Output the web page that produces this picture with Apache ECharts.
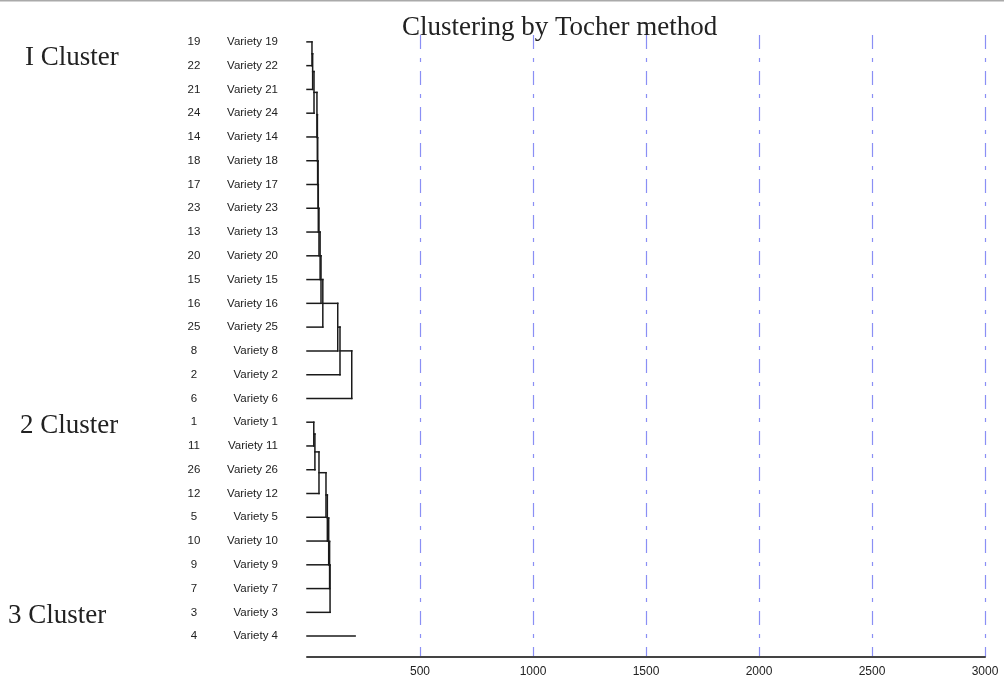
<!DOCTYPE html>
<html>
<head>
<meta charset="utf-8">
<script src="https://cdn.jsdelivr.net/npm/echarts@6/dist/echarts.min.js"></script>
<style>
html,body{margin:0;padding:0;background:#fff;}
#chart{width:1004px;height:683px;}
</style>
</head>
<body>
<div id="chart"></div>
<script>
// ---- data ----
const titleText = 'Clustering by Tocher method';
const leafIds = [19,22,21,24,14,18,17,23,13,20,15,16,25,8,2,6,1,11,26,12,5,10,9,7,3,4];
const leafNames = ['Variety 19','Variety 22','Variety 21','Variety 24','Variety 14','Variety 18','Variety 17','Variety 23','Variety 13','Variety 20','Variety 15','Variety 16','Variety 25','Variety 8','Variety 2','Variety 6','Variety 1','Variety 11','Variety 26','Variety 12','Variety 5','Variety 10','Variety 9','Variety 7','Variety 3','Variety 4'];
const clusterNames = ['I Cluster','2 Cluster','3 Cluster'];
const clusterSizes = [16, 9, 1];
// join heights (each next leaf joins the growing group at this distance)
const cluster1Joins = [22,25,31,44,46,47,49,50,53,58,62,70,136,146,198];
const cluster2Joins = [30,35,53,84,90,96,100,102];
const cluster3Joins = [213];
const xTicks = [0,500,1000,1500,2000,2500,3000];

// ---- build segments from the data ----
const clusterJoins = [cluster1Joins, cluster2Joins, cluster3Joins];
const segments = [];
let start = 0;
clusterSizes.forEach((size, c) => {
  const joins = clusterJoins[c];
  if (size === 1) {
    segments.push([0, start, joins[0], start]);
  } else {
    let gy = start, gh = 0;
    for (let k = 1; k < size; k++) {
      const ly = start + k, h = joins[k - 1];
      segments.push([gh, gy, h, gy]);      // group stem
      segments.push([0, ly, h, ly]);       // new leaf
      segments.push([h, gy, h, ly]);       // vertical connector
      gy = (gy + ly) / 2; gh = h;
    }
  }
  start += size;
});

const chart = echarts.init(document.getElementById('chart'), null, {renderer:'canvas'});
const serif = 'Liberation Serif, Times New Roman, serif';
const sans = 'Liberation Sans, Arial, sans-serif';

chart.setOption({
  animation: false,
  backgroundColor: '#fff',
  title: {
    text: titleText, left: 397, top: 9,
    textStyle: {fontFamily: serif, fontSize: 27, fontWeight: 'normal', color: '#222'}
  },
  grid: [
    {left: 307, right: 19, top: 35, bottom: 26},
    {left: 307, right: 19, top: 30, bottom: 35}
  ],
  xAxis: [
    {
      type: 'value', gridIndex: 0, min: xTicks[0], max: xTicks[xTicks.length-1], interval: 500,
      axisLine: {show: true, lineStyle: {color: '#444', width: 2}},
      axisTick: {show: false},
      axisLabel: {
        color: '#222', fontFamily: sans, fontSize: 12, margin: 9,
        formatter: v => v === 0 ? '' : String(v)
      },
      splitLine: {show: true, showMinLine: false, lineStyle: {color: '#8a8ff5', width: 1.2, type: [14, 9, 4, 9]}}
    },
    {type: 'value', gridIndex: 1, min: xTicks[0], max: xTicks[xTicks.length-1], show: false,
     splitLine: {show: false}, axisLine: {show: false}, axisTick: {show: false}, axisLabel: {show: false}}
  ],
  yAxis: [
    {type: 'value', gridIndex: 0, show: false, splitLine: {show: false}, axisLine: {show: false}},
    {
      type: 'category', gridIndex: 1, inverse: true, data: leafIds.map((id, i) => id + '|' + leafNames[i]),
      axisLine: {show: false}, axisTick: {show: false}, splitLine: {show: false},
      axisLabel: {
        margin: 29, fontFamily: sans, fontSize: 11.5, color: '#222',
        formatter: v => { const p = v.split('|'); return '{n|' + p[0] + '}{v|' + p[1] + '}'; },
        rich: {
          n: {width: 28, align: 'center', fontFamily: sans, fontSize: 11.5, color: '#222'},
          v: {width: 70, align: 'right', fontFamily: sans, fontSize: 11.5, color: '#222'}
        }
      }
    },
    {type: 'value', gridIndex: 1, inverse: true, min: -0.5, max: leafIds.length - 0.5, show: false,
     splitLine: {show: false}, axisLine: {show: false}}
  ],
  series: [{
    type: 'custom',
    xAxisIndex: 1, yAxisIndex: 2,
    data: segments,
    encode: {x: [0, 2], y: [1, 3]},
    renderItem: (params, api) => {
      const p1 = api.coord([api.value(0), api.value(1)]);
      const p2 = api.coord([api.value(2), api.value(3)]);
      return {
        type: 'line',
        shape: {x1: p1[0], y1: p1[1], x2: p2[0], y2: p2[1]},
        style: {stroke: '#1a1a1a', lineWidth: 1.5, lineCap: 'square'}
      };
    }
  }],
  graphic: [
    {type: 'line', shape: {x1: 0, y1: 0.5, x2: 1004, y2: 0.5}, style: {stroke: '#aaa', lineWidth: 2}},
    {type: 'text', left: 25, top: 44, style: {text: clusterNames[0], font: '27px ' + serif, fill: '#222'}},
    {type: 'text', left: 20, top: 412, style: {text: clusterNames[1], font: '27px ' + serif, fill: '#222'}},
    {type: 'text', left: 8, top: 602, style: {text: clusterNames[2], font: '27px ' + serif, fill: '#222'}}
  ]
});
</script>
</body>
</html>
